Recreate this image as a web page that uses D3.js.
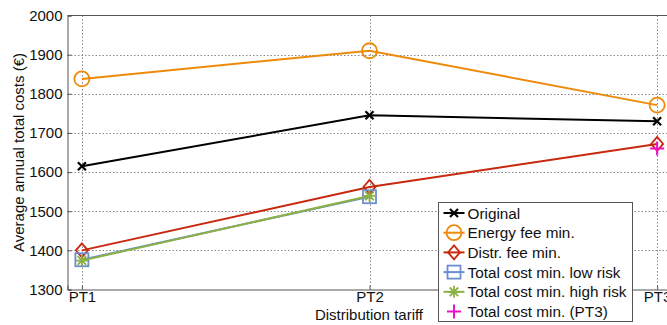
<!DOCTYPE html>
<html>
<head>
<meta charset="utf-8">
<script src="https://cdn.jsdelivr.net/npm/d3@7"></script>
<style>
  html, body { margin: 0; padding: 0; background: #fff; overflow: hidden; }
  text { font-family: "Liberation Sans", Arial, sans-serif; fill: #111; }
</style>
</head>
<body>
<div id="chart"></div>
<script>
// Average annual total costs per distribution tariff
const categories = ['PT1', 'PT2', 'PT3'];
const original   = [1615, 1745, 1730];
const energyFee  = [1838, 1910, 1771];
const distrFee   = [1400, 1562, 1672];
const lowRisk    = [1376, 1537, null];
const highRisk   = [1374, 1539, null];
const pt3Only    = [null, null, 1660];
const yTicks     = [1300, 1400, 1500, 1600, 1700, 1800, 1900, 2000];

const series = [
    { name: 'Original', values: original, color: '#000000', marker: 'x' },
    { name: 'Energy fee min.', values: energyFee, color: '#EE8A0A', marker: 'circle' },
    { name: 'Distr. fee min.', values: distrFee, color: '#C8280E', marker: 'diamond' },
    { name: 'Total cost min. low risk', values: lowRisk, color: '#6A8ECF', marker: 'square' },
    { name: 'Total cost min. high risk', values: highRisk, color: '#8BB045', marker: 'star' },
    { name: 'Total cost min. (PT3)', values: pt3Only, color: '#EE10C8', marker: 'plus' }
];

const W = 667, H = 325;
const plotLeft = 67.5, plotRight = 671.5, plotTop = 15.5, plotBottom = 289.5;

const svg = d3.select('#chart').append('svg')
    .attr('width', W).attr('height', H);

const x = d3.scaleLinear().domain([0.95, 3.05]).range([plotLeft, plotRight]);
const y = d3.scaleLinear().domain([1300, 2000]).range([plotBottom, plotTop]);

// grid
const grid = svg.append('g');
grid.selectAll('.hg').data(yTicks.slice(1, -1)).enter().append('line')
    .attr('x1', plotLeft).attr('x2', plotRight)
    .attr('y1', d => Math.round(y(d)) + 0.5).attr('y2', d => Math.round(y(d)) + 0.5)
    .attr('stroke', '#888').attr('stroke-width', 1).attr('stroke-dasharray', '1.5,2');
grid.selectAll('.vg').data(categories).enter().append('line')
    .attr('x1', (d, i) => Math.round(x(i + 1)) + 0.5).attr('x2', (d, i) => Math.round(x(i + 1)) + 0.5)
    .attr('y1', plotTop).attr('y2', plotBottom)
    .attr('stroke', '#888').attr('stroke-width', 1).attr('stroke-dasharray', '1.5,2');

// axes
const yAxis = svg.append('g').attr('transform', `translate(${plotLeft},0)`)
    .call(d3.axisLeft(y).tickValues(yTicks).tickSize(-4).tickPadding(5).tickFormat(d3.format('d')));
const xAxis = svg.append('g').attr('transform', `translate(0,${plotBottom})`)
    .call(d3.axisBottom(x).tickValues([1, 2, 3]).tickSize(-4).tickPadding(2)
        .tickFormat(d => categories[d - 1]));
[yAxis, xAxis].forEach(a => {
    a.select('.domain').attr('stroke', '#555');
    a.selectAll('.tick line').attr('stroke', '#555');
    a.selectAll('text').style('font-size', '15px').attr('fill', '#111')
        .style('font-family', '"Liberation Sans", Arial, sans-serif');
});
// top border
svg.append('line').attr('x1', plotLeft).attr('x2', plotRight).attr('y1', plotTop).attr('y2', plotTop)
    .attr('stroke', '#555');

// axis labels
svg.append('text')
    .attr('transform', `translate(24,${(plotTop + plotBottom) / 2}) rotate(-90)`)
    .attr('text-anchor', 'middle')
    .style('font-size', '15px')
    .text('Average annual total costs (€)');
svg.append('text')
    .attr('x', 369).attr('y', 320)
    .attr('text-anchor', 'middle')
    .style('font-size', '15px')
    .text('Distribution tariff');

function drawMarker(g, type, color) {
    if (type === 'x') {
        g.append('path').attr('d', 'M-4,-4L4,4M-4,4L4,-4')
            .attr('stroke', color).attr('stroke-width', 2.2).attr('fill', 'none');
    } else if (type === 'circle') {
        g.append('circle').attr('r', 7.5)
            .attr('stroke', color).attr('stroke-width', 1.8).attr('fill', 'none');
    } else if (type === 'diamond') {
        g.append('path').attr('d', 'M0,-7L6,0L0,7L-6,0Z')
            .attr('stroke', color).attr('stroke-width', 1.8).attr('fill', 'none');
    } else if (type === 'square') {
        g.append('rect').attr('x', -6.5).attr('y', -6.5).attr('width', 13).attr('height', 13)
            .attr('stroke', color).attr('stroke-width', 1.8).attr('fill', 'none');
    } else if (type === 'star') {
        g.append('path').attr('d', 'M-6,0L6,0M0,-6L0,6M-4.3,-4.3L4.3,4.3M-4.3,4.3L4.3,-4.3')
            .attr('stroke', color).attr('stroke-width', 1.8).attr('fill', 'none');
    } else if (type === 'plus') {
        g.append('path').attr('d', 'M-7,0L7,0M0,-7L0,7')
            .attr('stroke', color).attr('stroke-width', 2).attr('fill', 'none');
    }
}

series.forEach(s => {
    const pts = s.values.map((v, i) => ({ v, i })).filter(p => p.v != null);
    svg.append('path')
        .attr('d', d3.line().x(p => x(p.i + 1)).y(p => y(p.v))(pts))
        .attr('stroke', s.color).attr('stroke-width', 2).attr('fill', 'none');
    pts.forEach(p => {
        const g = svg.append('g').attr('transform', `translate(${x(p.i + 1)},${y(p.v)})`);
        drawMarker(g, s.marker, s.color);
    });
});

// legend
const lg = svg.append('g').attr('transform', 'translate(438.5,202.5)');
lg.append('rect').attr('width', 194).attr('height', 119)
    .attr('fill', '#fff').attr('stroke', '#555').attr('stroke-width', 1);
series.forEach((s, i) => {
    const yy = 10.5 + i * 19.7;
    if (s.marker !== 'plus') {
        lg.append('line').attr('x1', 5).attr('x2', 26).attr('y1', yy).attr('y2', yy)
            .attr('stroke', s.color).attr('stroke-width', 2);
    }
    drawMarker(lg.append('g').attr('transform', `translate(15.5,${yy})`), s.marker, s.color);
    lg.append('text').attr('x', 29).attr('y', yy + 5.5)
        .style('font-size', '15.3px').text(s.name);
});
</script>
</body>
</html>
